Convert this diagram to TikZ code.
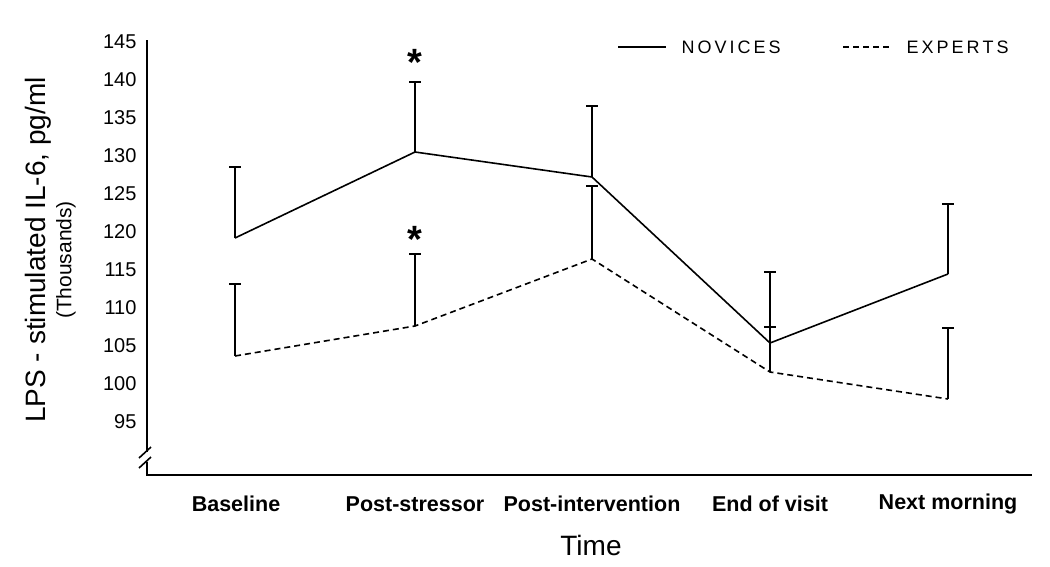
\documentclass[tikz,border=0pt]{standalone}
\usepackage{fontspec}
\setmainfont{Liberation Sans}
\begin{document}
\begin{tikzpicture}[x=1pt,y=-1pt,
  ax/.style={line width=1.6pt},
  nov/.style={line width=1.6pt},
  exp/.style={line width=1.6pt,dash pattern=on 6pt off 4pt},
  eb/.style={line width=1.5pt},
  tl/.style={anchor=east,font=\fontsize{20}{20}\selectfont},
  cat/.style={font=\bfseries\fontsize{21.5}{21.5}\selectfont},
  leg/.style={anchor=west,font=\fontsize{18}{18}\selectfont}]
\useasboundingbox (0,0) rectangle (1050,566);
% axes
\coordinate (ytop) at (147,40);
\coordinate (ybr) at (147,452);
\coordinate (ybr2) at (147,462);
\coordinate (org) at (147,475);
\coordinate (xend) at (1032,475);
\draw[ax] (ytop) -- (ybr);
\draw[ax] (ybr2) -- (org) -- (xend);
\draw[ax] (139,458) -- (151,447);
\draw[ax] (139,468) -- (151,457);
% tick labels
\foreach \v in {95,100,...,145}{
  \pgfmathsetmacro{\yy}{384-(\v-100)*7.6}
  \node[tl] at (140,\yy) {\v};
}
% data
\foreach \n/\x/\y in {n1/235/238,n2/415/152,n3/592/177,n4/770/343,n5/948/274}
  \coordinate (\n) at (\x,\y);
\foreach \n/\x/\y in {e1/235/356,e2/415/326,e3/592/259,e4/770/372,e5/948/399}
  \coordinate (\n) at (\x,\y);
\draw[nov] (n1) -- (n2) -- (n3) -- (n4) -- (n5);
\draw[exp] (e1) -- (e2) -- (e3) -- (e4) -- (e5);
% error bars
\foreach \n/\t in {n1/167,n2/82,n3/106,n4/272,n5/204,e1/284,e2/254,e3/186,e4/327,e5/328}{
  \draw[eb] (\n) -- (\n |- 0,\t) coordinate (t\n);
  \draw[eb] ([xshift=-6pt]t\n) -- ([xshift=6pt]t\n);
}
% asterisks
\node[font=\bfseries\fontsize{38}{38}\selectfont] (s1) at (415,62) {*};
\node[font=\bfseries\fontsize{38}{38}\selectfont] (s2) at (415,239) {*};
% legend
\coordinate (l1a) at (618,47); \coordinate (l1b) at (666,47);
\coordinate (l2a) at (843,47); \coordinate (l2b) at (891,47);
\draw[nov] (l1a) -- (l1b);
\draw[exp] (l2a) -- (l2b);
\node[leg] (ln) at (678,47) {N\,O\,V\,I\,C\,E\,S};
\node[leg] (le) at (903,47) {E\,X\,P\,E\,R\,T\,S};
% categories
\node[cat] (c1) at (236,504) {Baseline};
\node[cat] (c2) at (415,504) {Post-stressor};
\node[cat] (c3) at (592,504) {Post-intervention};
\node[cat] (c4) at (770,504) {End of visit};
\node[cat] (c5) at (948,504) {Next morning};
\node[font=\fontsize{28}{28}\selectfont] (tx) at (591,545) {Time};
\node[rotate=90,font=\fontsize{28}{28}\selectfont] (yl) at (38,250) {LPS - stimulated IL-6, pg/ml};
\node[rotate=90,font=\fontsize{21}{21}\selectfont] (yl2) at (66,260) {(Thousands)};
\end{tikzpicture}
\end{document}
